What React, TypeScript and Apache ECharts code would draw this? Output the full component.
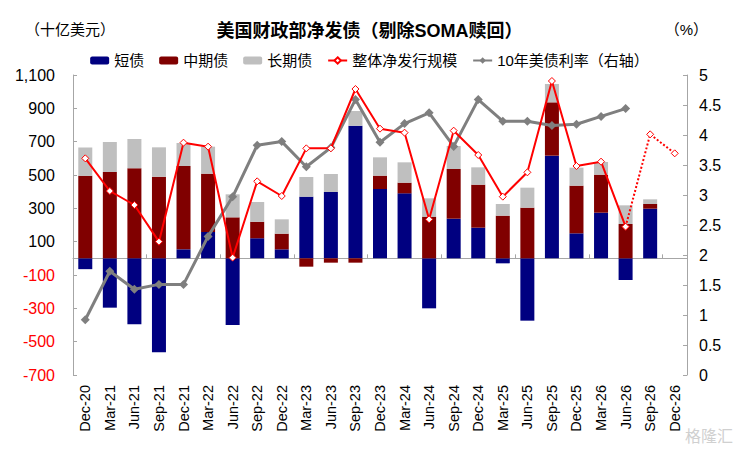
import React, { useEffect, useRef } from "react";
import * as echarts from "echarts";

const categories = ["Dec-20","Mar-21","Jun-21","Sep-21","Dec-21","Mar-22","Jun-22","Sep-22","Dec-22","Mar-23","Jun-23","Sep-23","Dec-23","Mar-24","Jun-24","Sep-24","Dec-24","Mar-25","Jun-25","Sep-25","Dec-25","Mar-26","Jun-26","Sep-26","Dec-26"];

const shortBills = [-65,-296,-396,-564,54,158,-400,120,54,370,398,796,416,390,-300,238,184,-30,-374,616,150,274,-130,298,null];
const mediumNotes = [495,518,540,490,500,350,246,100,94,-50,-26,-26,80,64,250,298,258,256,304,320,286,228,206,28,null];
const longBonds = [170,180,176,176,138,162,138,118,86,118,108,88,110,122,110,138,104,70,120,110,108,76,112,28,null];
const netIssuance = [600,404,320,100,694,670,4,462,374,660,660,1016,778,754,234,766,620,370,516,1064,554,580,190,null,null];
const netProjected = [null,null,null,null,null,null,null,null,null,null,null,null,null,null,null,null,null,null,null,null,null,null,190,744,630];
const yield10y = [0.92,1.73,1.43,1.51,1.51,2.31,2.97,3.83,3.89,3.47,3.79,4.59,3.88,4.19,4.37,3.81,4.59,4.23,4.23,4.16,4.18,4.31,4.44,null,null];
const leftTicks = [-700,-500,-300,-100,100,300,500,700,900,1100];

const FONT = "'Liberation Sans', 'Noto Sans CJK SC', sans-serif";
const AXIS_GRAY = "#a6a6a6";

export default function App() {
  const ref = useRef<HTMLDivElement>(null);
  useEffect(() => {
    const chart = echarts.init(ref.current!, null, { renderer: "svg" });
    chart.setOption({
      animation: false,
      backgroundColor: "#ffffff",
      textStyle: { fontFamily: FONT },
      title: [
        { text: "美国财政部净发债（剔除SOMA赎回）", left: "center", top: 17,
          textStyle: { fontSize: 18, fontWeight: "bold", color: "#000", fontFamily: FONT } },
        { text: "（十亿美元）", left: 20, top: 17,
          textStyle: { fontSize: 15, fontWeight: "normal", color: "#000", fontFamily: FONT } },
        { text: "（%）", right: 26, top: 17,
          textStyle: { fontSize: 15, fontWeight: "normal", color: "#000", fontFamily: FONT } },
      ],
      legend: {
        top: 48,
        left: "center",
        itemWidth: 19,
        itemHeight: 8,
        itemGap: 15,
        textStyle: { fontSize: 15, color: "#000", fontFamily: FONT },
        data: ["短债", "中期债", "长期债", "整体净发行规模", "10年美债利率（右轴）"],
      },
      grid: { left: 73, right: 52, top: 75, bottom: 77 },
      xAxis: [
        {
          type: "category",
          data: categories,
          position: "bottom",
          axisLine: { show: false, onZero: false },
          axisTick: { show: false },
          axisLabel: { rotate: 90, interval: 0, fontSize: 14.5, color: "#000", margin: 10, fontFamily: FONT },
        },
        {
          type: "category",
          data: categories,
          position: "bottom",
          axisLine: { show: true, onZero: true, onZeroAxisIndex: 0, lineStyle: { color: AXIS_GRAY, width: 1 } },
          axisTick: { show: true, inside: true, length: 4, lineStyle: { color: AXIS_GRAY } },
          axisLabel: { show: false },
        },
      ],
      yAxis: [
        {
          type: "value",
          min: -700,
          max: 1100,
          axisLine: { show: true, lineStyle: { color: AXIS_GRAY } },
          axisTick: { show: true, inside: true, length: 4, customValues: leftTicks, lineStyle: { color: AXIS_GRAY } },
          splitLine: { show: false },
          axisLabel: {
            customValues: leftTicks,
            fontSize: 16,
            margin: 18,
            fontFamily: FONT,
            formatter: (v: number) => v.toLocaleString("en-US"),
            color: (v: any) => (Number(v) < 0 ? "#ff0000" : "#000000"),
          },
        },
        {
          type: "value",
          min: 0,
          max: 5,
          interval: 0.5,
          position: "right",
          axisLine: { show: true, lineStyle: { color: AXIS_GRAY } },
          axisTick: { show: true, inside: true, length: 4, lineStyle: { color: AXIS_GRAY } },
          splitLine: { show: false },
          axisLabel: { fontSize: 16, color: "#000", margin: 12, fontFamily: FONT },
        },
      ],
      series: [
        { name: "短债", type: "bar", stack: "debt", data: shortBills, barWidth: 14, itemStyle: { color: "#000080" } },
        { name: "中期债", type: "bar", stack: "debt", data: mediumNotes, barWidth: 14, itemStyle: { color: "#800000" } },
        { name: "长期债", type: "bar", stack: "debt", data: longBonds, barWidth: 14, itemStyle: { color: "#bfbfbf" } },
        {
          name: "10年美债利率（右轴）", type: "line", yAxisIndex: 1, data: yield10y, z: 3,
          symbol: "diamond", symbolSize: 9,
          lineStyle: { color: "#7f7f7f", width: 3 },
          itemStyle: { color: "#7f7f7f" },
        },
        {
          name: "整体净发行规模", type: "line", data: netIssuance, z: 4,
          symbol: "diamond", symbolSize: 7,
          lineStyle: { color: "#ff0000", width: 2 },
          itemStyle: { color: "#ffffff", borderColor: "#ff0000", borderWidth: 1 },
        },
        {
          name: "整体净发行规模（预测）", type: "line", data: netProjected, z: 4,
          symbol: "diamond", symbolSize: 7,
          lineStyle: { color: "#ff0000", width: 2, type: "dotted" },
          itemStyle: { color: "#ffffff", borderColor: "#ff0000", borderWidth: 1 },
        },
      ],
      graphic: [
        { type: "text", right: 6, bottom: 8, style: { text: "格隆汇", fontSize: 16, fill: "#d0d0d0", fontFamily: FONT } },
      ],
    });
    return () => chart.dispose();
  }, []);
  return <div ref={ref} style={{ position: "absolute", left: 0, top: 0, width: 739, height: 452 }} />;
}
